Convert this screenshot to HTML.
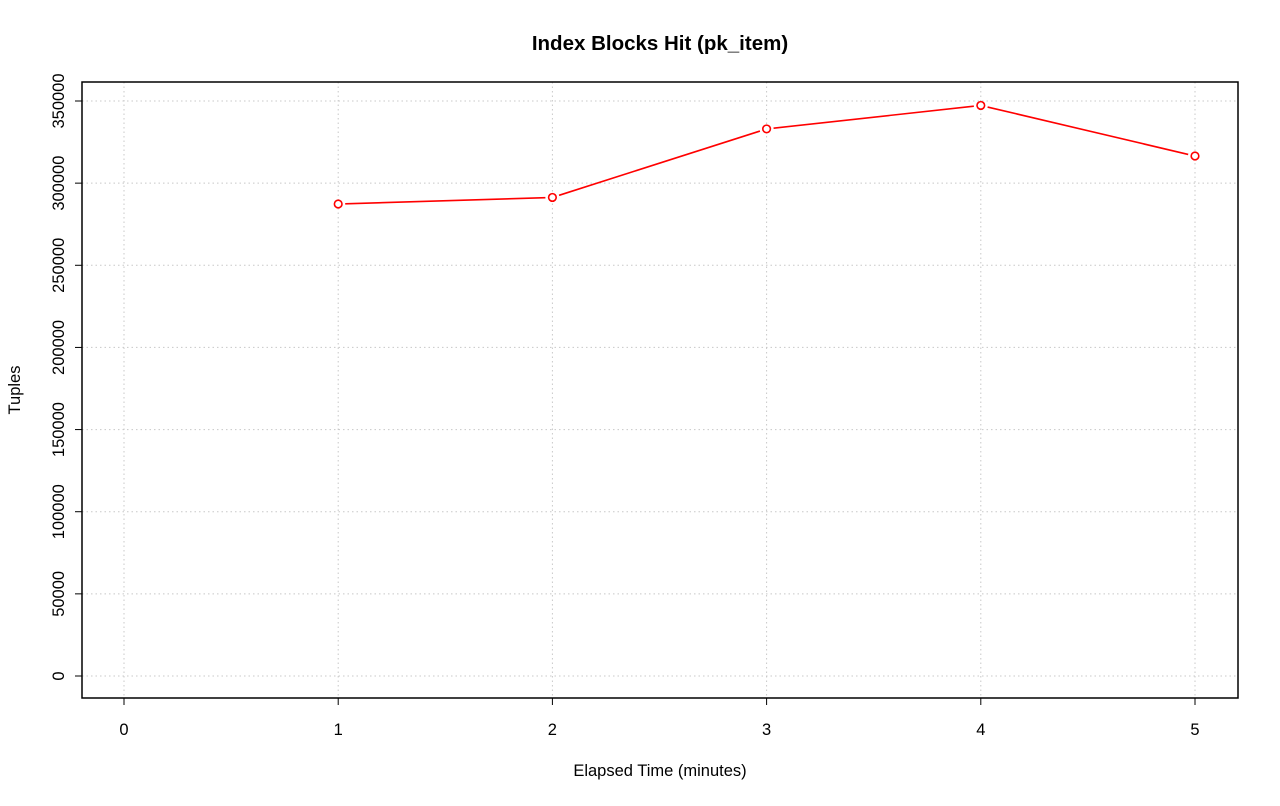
<!DOCTYPE html>
<html><head><meta charset="utf-8"><style>
html,body{margin:0;padding:0;background:#fff;}
svg text{font-family:"Liberation Sans",Arial,sans-serif;fill:#000;}
</style></head><body>
<svg id="chart" width="1280" height="801" viewBox="0 0 1280 801" xmlns="http://www.w3.org/2000/svg">
<rect width="1280" height="801" fill="#fff"/>
<text x="660" y="50" text-anchor="middle" font-size="20.5" font-weight="bold">Index Blocks Hit (pk_item)</text>
<text x="660" y="776" text-anchor="middle" font-size="16.5">Elapsed Time (minutes)</text>
<text transform="translate(20,390) rotate(-90)" text-anchor="middle" font-size="16.5">Tuples</text>
<g id="grid"></g>
<g id="axes"></g>
<g id="series"></g>
<rect x="82" y="82" width="1156" height="616" fill="none" stroke="#000" stroke-width="1.5"/>
</svg>
<script>
const xTicks = [0, 1, 2, 3, 4, 5];
const yTicks = [0, 50000, 100000, 150000, 200000, 250000, 300000, 350000];
const minutes = [1, 2, 3, 4, 5];
const tuples = [287300, 291300, 333000, 347300, 316500];

const NS = "http://www.w3.org/2000/svg";
function xs(v){ return 124 + v * (1195 - 124) / 5; }
function ys(v){ return 676 - v * (676 - 101) / 350000; }
function mk(tag, attrs, parent, text){
  const e = document.createElementNS(NS, tag);
  for (const k in attrs) e.setAttribute(k, attrs[k]);
  if (text !== undefined) e.textContent = text;
  parent.appendChild(e);
  return e;
}
const grid = document.getElementById('grid');
const axes = document.getElementById('axes');
const series = document.getElementById('series');

xTicks.forEach(t => {
  const x = xs(t);
  const g = mk('line', {x1:x, x2:x, y1:82, y2:698, stroke:'#c8c8c8', 'stroke-dasharray':'1.5 3'}, grid);
  
  
  const tk = mk('line', {x1:x, x2:x, y1:698, y2:705, stroke:'#000'}, axes);
  
  
  const lb = mk('text', {x:x, y:735, 'text-anchor':'middle', 'font-size':'16.5'}, axes, String(t));
  
  
});
yTicks.forEach(t => {
  const y = ys(t);
  const g = mk('line', {x1:82, x2:1238, y1:y, y2:y, stroke:'#c8c8c8', 'stroke-dasharray':'1.5 3'}, grid);
  
  
  const tk = mk('line', {x1:75, x2:82, y1:y, y2:y, stroke:'#000'}, axes);
  
  
  const lb = mk('text', {transform:'translate(64,'+y+') rotate(-90)', 'text-anchor':'middle', 'font-size':'16.5'}, axes, String(t));
  
  
});
for (let i = 0; i < minutes.length - 1; i++) {
  const x1 = xs(minutes[i]), y1 = ys(tuples[i]), x2 = xs(minutes[i+1]), y2 = ys(tuples[i+1]);
  const d = Math.hypot(x2-x1, y2-y1), r = 7;
  const ux = (x2-x1)/d, uy = (y2-y1)/d;
  const l = mk('line', {x1:x1+ux*r, y1:y1+uy*r, x2:x2-ux*r, y2:y2-uy*r, stroke:'#ff0000', 'stroke-width':'1.6'}, series);
  
  
}
minutes.forEach((m, i) => {
  const c = mk('circle', {cx:xs(m), cy:ys(tuples[i]), r:3.8, fill:'#fff', stroke:'#ff0000', 'stroke-width':'1.6'}, series);
  
  
});
</script>
</body></html>
